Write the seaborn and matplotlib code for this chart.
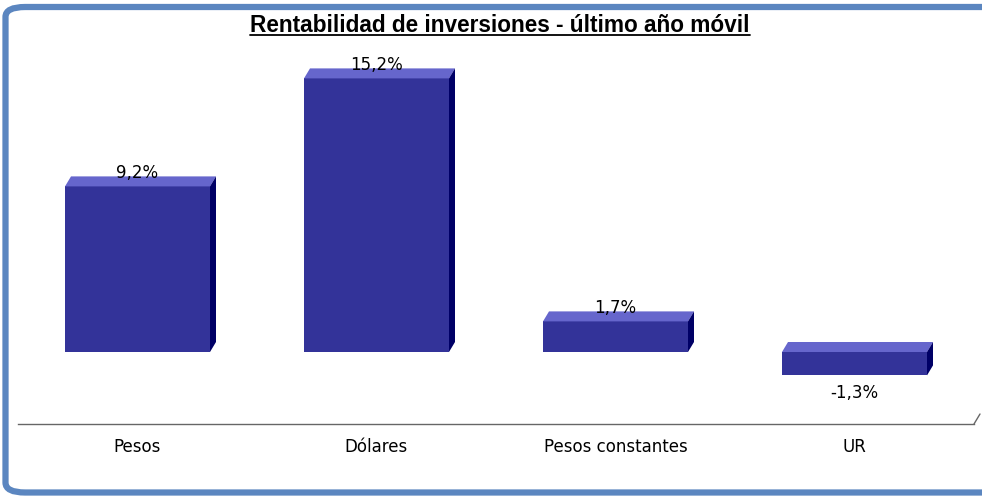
import matplotlib
matplotlib.use("Agg")
import matplotlib.pyplot as plt
import seaborn as sns
import numpy as np
import pandas as pd
from matplotlib.patches import Polygon, FancyBboxPatch
from matplotlib.lines import Line2D

categories = ["Pesos", "Dólares", "Pesos constantes", "UR"]
values = [9.2, 15.2, 1.7, -1.3]
value_labels = ["9,2%", "15,2%", "1,7%", "-1,3%"]
title = "Rentabilidad de inversiones - último año móvil"

FRONT = "#333399"
TOP = "#6666cc"
SIDE = "#000066"
FRAME = "#5b86c0"

W, H = 982, 496
DPI = 100
sns.set_theme(style="white")
plt.rcParams['font.family'] = ['DejaVu Sans']

fig = plt.figure(figsize=(W / DPI, H / DPI), dpi=DPI)

# frame
frame = FancyBboxPatch((5.5 / W, 3.5 / H), 1.5, (489 - 3.5) / H,
                       boxstyle="round,pad=0,rounding_size=0.02",
                       transform=fig.transFigure, facecolor="white",
                       edgecolor=FRAME, linewidth=4.5, zorder=0)
fig.patches.append(frame)

# axes: left px 18, right px 974, y from 64 to 424 (top-origin)
ax_left, ax_right = 18, 974
ax_top, ax_bot = 64, 424
ax = fig.add_axes([ax_left / W, 1 - ax_bot / H, (ax_right - ax_left) / W, (ax_bot - ax_top) / H])
ax.set_zorder(2)
ax.patch.set_alpha(0)

df = pd.DataFrame({"cat": categories, "val": values})
bar_w = 145 / 239
sns.barplot(data=df, x="cat", y="val", color=FRONT, saturation=1, width=bar_w,
            ax=ax, edgecolor="none", linewidth=0, zorder=3)
ymin, ymax = -4, 16
ax.set_ylim(ymin, ymax)
ax.set_xlim(-0.5, len(categories) - 0.5)

# depth in data units
px_per_x = (ax_right - ax_left) / len(categories)
px_per_y = (ax_bot - ax_top) / (ymax - ymin)
dx = 6 / px_per_x
dy = 10 / px_per_y

for p in list(ax.patches):
    x0 = p.get_x()
    x1 = x0 + p.get_width()
    y0 = p.get_y()
    h = p.get_height()
    ytop = max(y0, y0 + h)
    ybot = min(y0, y0 + h)
    top = Polygon([(x0, ytop), (x1, ytop), (x1 + dx, ytop + dy), (x0 + dx, ytop + dy)],
                  closed=True, facecolor=TOP, edgecolor="none", zorder=3, clip_on=False)
    side = Polygon([(x1, ybot), (x1 + dx, ybot + dy), (x1 + dx, ytop + dy), (x1, ytop)],
                   closed=True, facecolor=SIDE, edgecolor="none", zorder=3, clip_on=False)
    ax.add_patch(top)
    ax.add_patch(side)

for i, (v, lab) in enumerate(zip(values, value_labels)):
    if v >= 0:
        ax.annotate(lab, (i, v), xytext=(0, 3), textcoords="offset points",
                    ha="center", va="bottom", fontsize=12, color="black", zorder=5)
    else:
        ax.annotate(lab, (i, v), xytext=(0, -6), textcoords="offset points",
                    ha="center", va="top", fontsize=12, color="black", zorder=5)

for s in ["top", "right", "left"]:
    ax.spines[s].set_visible(False)
ax.spines["bottom"].set_color("#666666")
ax.spines["bottom"].set_linewidth(1.0)
ax.set_yticks([])
ax.set_xlabel("")
ax.set_ylabel("")
ax.tick_params(axis="x", length=0, pad=10, labelsize=12, colors="black")

# slanted end of the floor line
fig.lines.append(Line2D([ax_right / W, (ax_right + 6) / W],
                        [1 - ax_bot / H, 1 - (ax_bot - 10) / H],
                        transform=fig.transFigure, color="#666666", linewidth=1.0))

t = fig.text(500 / W, 1 - 25 / H, title, ha="center", va="center", color="black",
             fontsize=16.3, fontweight="bold", family=["Liberation Sans", "DejaVu Sans"])
fig.canvas.draw()
bb = t.get_window_extent(fig.canvas.get_renderer())
uy = (bb.y0 + 2) / H
fig.lines.append(Line2D([bb.x0 / W, bb.x1 / W], [uy, uy], transform=fig.transFigure,
                        color="black", linewidth=1.3))

fig.savefig("out.png", dpi=DPI)
